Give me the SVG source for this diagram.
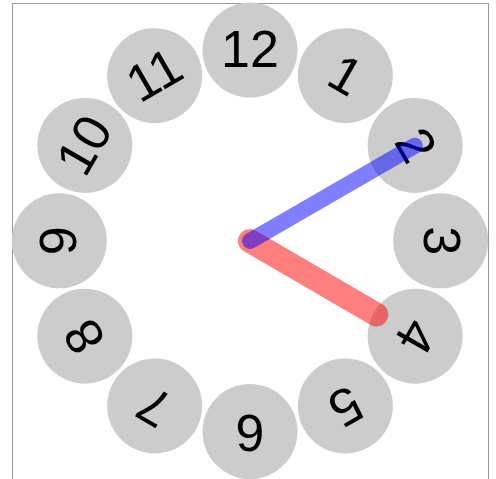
<svg xmlns="http://www.w3.org/2000/svg" width="496" height="479" viewBox="0 0 496 479">
<style>
.face{fill:#ccc}
.num{font-family:"Liberation Sans",Arial,sans-serif;font-size:52px;fill:#000;text-anchor:middle}
.hand{fill:none;stroke-linecap:round}
</style>
<rect width="496" height="479" fill="#fff"/>
<rect x="12.5" y="3.5" width="476" height="500" fill="none" stroke="#999" stroke-width="1"/>
<g id="n12" transform="translate(250,50.1) rotate(0)"><circle class="face" r="47.5"/><text class="num" y="17">12</text></g>
<g id="n1" transform="translate(345.35,75.65) rotate(30)"><circle class="face" r="47.5"/><text class="num" y="17">1</text></g>
<g id="n2" transform="translate(415.15,145.45) rotate(60)"><circle class="face" r="47.5"/><text class="num" y="17">2</text></g>
<g id="n3" transform="translate(440.7,240.8) rotate(90)"><circle class="face" r="47.5"/><text class="num" y="17">3</text></g>
<g id="n4" transform="translate(415.15,336.15) rotate(120)"><circle class="face" r="47.5"/><text class="num" y="17">4</text></g>
<g id="n5" transform="translate(345.35,405.95) rotate(150)"><circle class="face" r="47.5"/><text class="num" y="17">5</text></g>
<g id="n6" transform="translate(250,431.5) rotate(180)"><circle class="face" r="47.5"/><text class="num" y="17">6</text></g>
<g id="n7" transform="translate(154.65,405.95) rotate(210)"><circle class="face" r="47.5"/><text class="num" y="17">7</text></g>
<g id="n8" transform="translate(84.85,336.15) rotate(240)"><circle class="face" r="47.5"/><text class="num" y="17">8</text></g>
<g id="n9" transform="translate(59.3,240.8) rotate(270)"><circle class="face" r="47.5"/><text class="num" y="17">9</text></g>
<g id="n10" transform="translate(84.85,145.45) rotate(300)"><circle class="face" r="47.5"/><text class="num" y="17">10</text></g>
<g id="n11" transform="translate(154.65,75.65) rotate(330)"><circle class="face" r="47.5"/><text class="num" y="17">11</text></g>
<g id="hands">
<line class="hand" x1="250" y1="241" x2="376.3" y2="314.5" stroke="rgba(255,0,0,0.5)" stroke-width="24"/>
<line class="hand" x1="250" y1="241" x2="414.8" y2="145.7" stroke="rgba(0,0,255,0.5)" stroke-width="16"/>
</g>
</svg>
